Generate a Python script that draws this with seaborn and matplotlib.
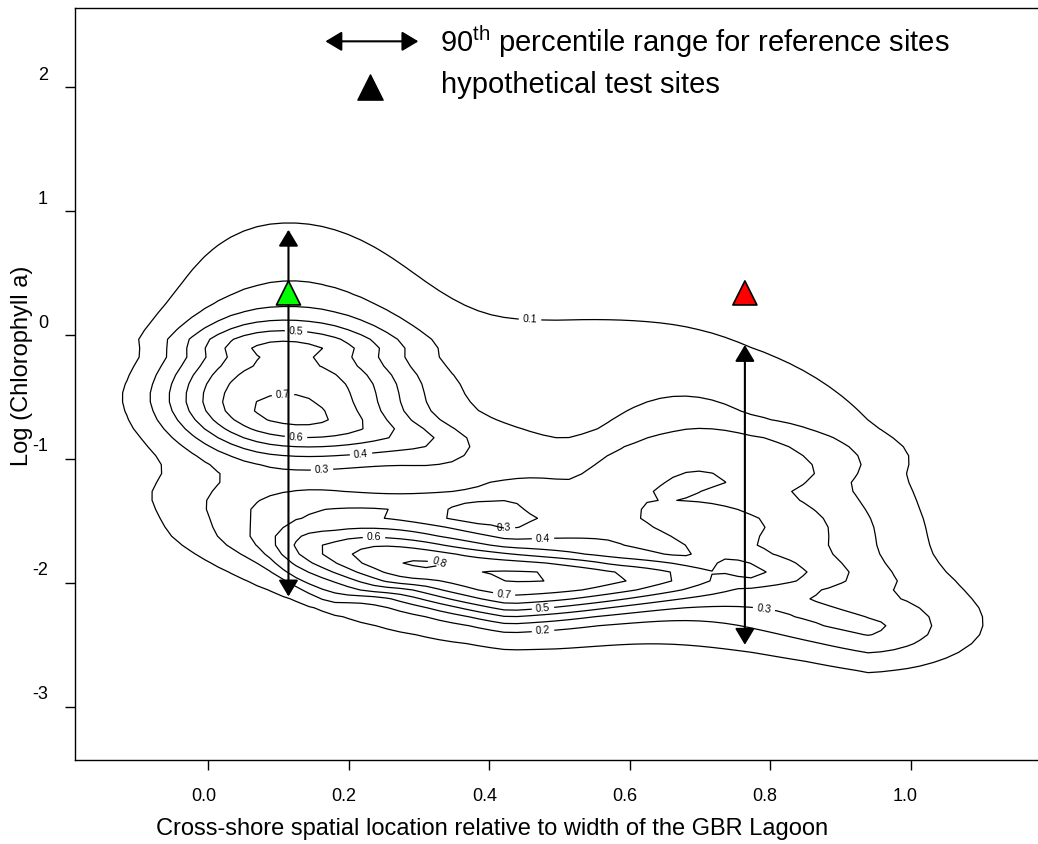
import numpy as np
import matplotlib
matplotlib.use("Agg")
import matplotlib.pyplot as plt
import seaborn as sns
from matplotlib.transforms import ScaledTranslation

# Kernel components of the reference-site density surface
# (centre, left/right and lower/upper spreads, left/right shear, shape exponent, weight)
comp_cx  = [0.097, 0.296, 0.104, 0.427, 0.174, 0.687, 0.769, 0.939, 0.500, 0.577, 0.380]
comp_cy  = [-0.435, -0.831, -0.045, -1.858, -2.060, -1.049, -1.825, -2.367, -1.568, -1.715, -1.422]
comp_sxl = [0.121, 0.163, 0.130, 0.311, 0.070, 0.371, 0.144, 0.183, 0.345, 0.302, 0.100]
comp_sxr = [0.146, 0.065, 0.142, 0.282, 0.134, 0.251, 0.179, 0.092, 0.358, 0.169, 0.020]
comp_syd = [0.439, 0.173, 0.094, 0.352, 0.104, 0.213, 0.150, 0.201, 0.726, 0.133, 0.060]
comp_syu = [0.395, 0.107, 0.795, 0.300, 0.374, 0.278, 0.985, 0.220, 1.342, 0.171, 0.020]
comp_ml  = [-0.021, -0.729, -0.136, -0.999, -2.401, 0.883, -3.000, -1.284, 0.029, -0.440, 0.252]
comp_mr  = [0.038, -0.620, -0.029, 0.415, 1.178, 0.226, -0.530, 0.063, 0.340, -0.010, 0.450]
comp_p   = [2.625, 1.655, 2.465, 3.159, 4.240, 6.000, 3.707, 1.578, 2.083, 2.442, 1.618]
comp_amp = [0.594, 0.194, 0.178, 0.617, 0.106, 0.076, 0.160, 0.282, 0.223, -0.404, -0.150]

levels = [0.1, 0.2, 0.3, 0.4, 0.5, 0.6, 0.7, 0.8]
level_label_spots = {
    0.1: [(0.45, 0.14)],
    0.2: [(0.473, -2.40)],
    0.3: [(0.167, -1.06), (0.423, -1.53), (0.80, -2.20)],
    0.4: [(0.22, -0.97), (0.473, -1.65)],
    0.5: [(0.117, 0.02), (0.473, -2.22)],
    0.6: [(0.134, -0.82), (0.23, -1.64)],
    0.7: [(0.103, -0.47), (0.423, -2.10)],
    0.8: [(0.323, -1.84)],
}

# 90th percentile ranges for reference sites
ref_x = [0.114, 0.764]
ref_low = [-2.11, -2.50]
ref_high = [0.85, -0.08]

# hypothetical test sites
test_x = [0.114, 0.764]
test_y = [0.34, 0.34]
test_name = ["inshore", "offshore"]
test_color = {"inshore": "#00ff00", "offshore": "#ff0000"}

xticks = [0.0, 0.2, 0.4, 0.6, 0.8, 1.0]
xticklabels = ["0.0", "0.2", "0.4", "0.6", "0.8", "1.0"]
yticks = [-3, -2, -1, 0, 1, 2]
yticklabels = ["-3", "-2", "-1", "0", "1", "2"]


def density(X, Y):
    Z = np.zeros_like(X)
    for cx, cy, sxl, sxr, syd, syu, ml, mr, p, a in zip(
            comp_cx, comp_cy, comp_sxl, comp_sxr, comp_syd, comp_syu,
            comp_ml, comp_mr, comp_p, comp_amp):
        dx = X - cx
        left = dx < 0
        sx = np.where(left, sxl, sxr)
        m = np.where(left, ml, mr)
        dy = Y - cy - m * dx
        sy = np.where(dy < 0, syd, syu)
        q = (dx / sx) ** 2 + (dy / sy) ** 2
        Z += a * np.exp(-0.5 * q ** (p / 2))
    return Z


sns.set_theme(style="white")
plt.rcParams["font.family"] = ["Liberation Sans", "DejaVu Sans"]
plt.rcParams["mathtext.fontset"] = "custom"
plt.rcParams["mathtext.rm"] = "Liberation Sans"

fig = plt.figure(figsize=(10.38, 8.44), dpi=100)
ax = fig.add_axes([75 / 1038, 84 / 844, 962 / 1038, 752 / 844])
ax.set_xlim(-0.19, 1.18)
ax.set_ylim(-3.43, 2.64)

gx = np.linspace(-0.19, 1.18, 75)
gy = np.linspace(-3.43, 2.64, 85)
GX, GY = np.meshgrid(gx, gy)
GZ = density(GX, GY)
cs = ax.contour(GX, GY, GZ, levels=levels, colors="black", linewidths=0.9)

# snap each label spot onto the nearest vertex of its own level
spots = []
for i, lev in enumerate(levels):
    segs = [s for s in cs.allsegs[i] if len(s)]
    if not segs:
        continue
    verts = np.vstack(segs)
    for x, y in level_label_spots[lev]:
        d = ((verts[:, 0] - x) * 702.5) ** 2 + ((verts[:, 1] - y) * 124.0) ** 2
        spots.append(tuple(verts[np.argmin(d)]))
ax.clabel(cs, manual=spots, inline=True, inline_spacing=4, fontsize=7.5, fmt="%.1f",
          colors="black")

arrow_style = "<|-|>,head_length=0.5,head_width=0.3"
for x, lo, hi in zip(ref_x, ref_low, ref_high):
    ax.annotate("", xy=(x, hi), xytext=(x, lo),
                arrowprops=dict(arrowstyle=arrow_style, color="black", lw=1.5,
                                shrinkA=0, shrinkB=0, mutation_scale=20), zorder=4)
sns.scatterplot(x=test_x, y=test_y, hue=test_name, palette=test_color, marker="^", s=300,
                edgecolor="black", linewidth=1.2, legend=False, ax=ax, zorder=6)

# key
ax.annotate("", xy=(0.299, 2.371), xytext=(0.1666, 2.371),
            arrowprops=dict(arrowstyle=arrow_style, color="black", lw=1.5,
                            shrinkA=0, shrinkB=0, mutation_scale=20))
ax.scatter([0.2306], [2.004], marker="^", s=330, color="black")
ax.text(0.330, 2.282, "90$^{\\rm th}$ percentile range for reference sites", fontsize=21,
        va="baseline", color="black")
ax.text(0.3316, 1.952, "hypothetical test sites", fontsize=21, va="baseline", color="black")

ax.set_xticks(xticks, xticklabels)
ax.set_yticks(yticks, yticklabels)
ax.tick_params(axis="both", direction="out", length=7.5, width=1.0, color="black",
               labelcolor="black", labelsize=13, bottom=True, left=True, top=False, right=False)
ax.tick_params(axis="x", pad=13)
ax.tick_params(axis="y", pad=12)
for t in ax.yaxis.get_major_ticks():
    t.label1.set_transform(t.label1.get_transform() + ScaledTranslation(0, 0.14, fig.dpi_scale_trans))
for t in ax.xaxis.get_major_ticks():
    t.label1.set_transform(t.label1.get_transform() + ScaledTranslation(-0.05, 0, fig.dpi_scale_trans))
for s in ["left", "bottom", "top"]:
    ax.spines[s].set_color("black")
    ax.spines[s].set_linewidth(1.0)
ax.spines["right"].set_visible(False)

ax.set_xlabel("Cross-shore spatial location relative to width of the GBR Lagoon",
              fontsize=17, color="black")
ax.xaxis.set_label_coords(0.4335, -0.077)
ax.set_ylabel("Log (Chlorophyll a)", fontsize=17, color="black")
ax.yaxis.set_label_coords(-0.0437, 0.524)

fig.savefig("out.png", dpi=100)
